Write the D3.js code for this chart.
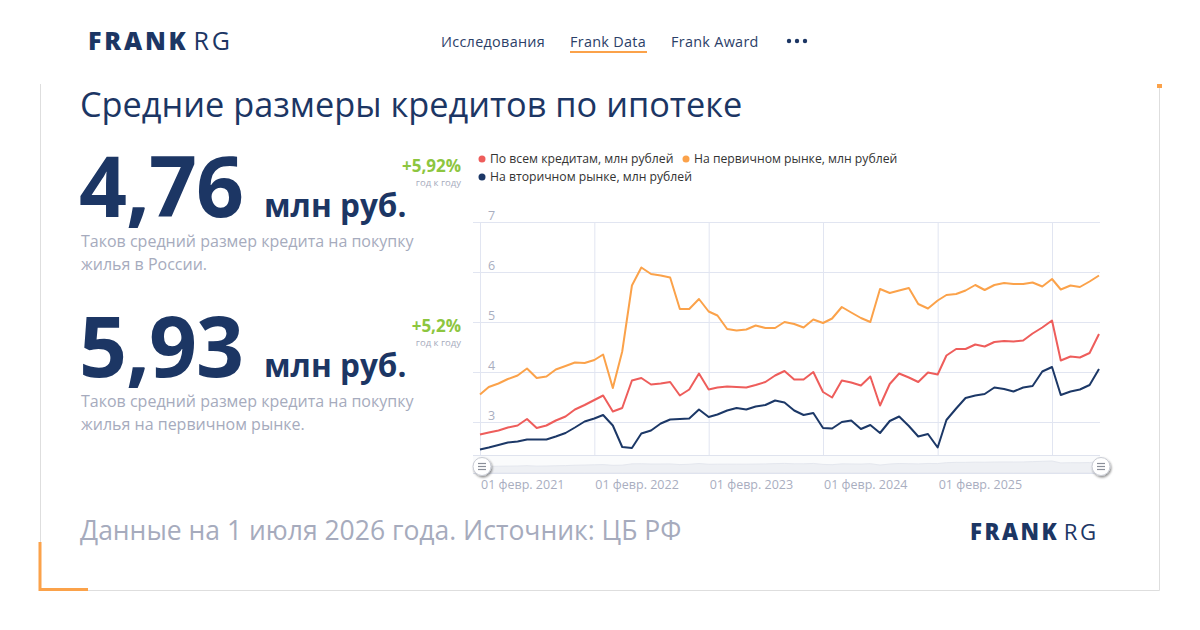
<!DOCTYPE html>
<html lang="ru">
<head>
<meta charset="utf-8">
<script src="https://d3js.org/d3.v7.min.js"></script>
<style>
  body { margin: 0; background: #fff; }
  text { font-family: "Open Sans", sans-serif; }
  .grid line { stroke: #e1e5f1; stroke-width: 1px; }
  .grid path { display: none; }
  .axis-label { fill: #a9aebf; font-size: 12.5px; }
</style>
</head>
<body>
<div id="chart"></div>
<script>
// monthly data, Feb 2021 .. Jul 2026
const startMonth = new Date(2021, 1, 1);
const allLoans = [
  2.75, 2.79, 2.83, 2.89, 2.93, 3.06, 2.88, 2.93, 3.03, 3.11, 3.25, 3.34,
  3.44, 3.53, 3.21, 3.28, 3.83, 3.88, 3.75, 3.77, 3.80, 3.53, 3.65, 3.97,
  3.65, 3.69, 3.71, 3.70, 3.69, 3.74, 3.80, 3.93, 4.02, 3.85, 3.85, 4.00,
  3.60, 3.49, 3.83, 3.79, 3.73, 3.91, 3.33, 3.76, 3.97, 3.89, 3.80, 3.99,
  3.95, 4.33, 4.46, 4.46, 4.55, 4.51, 4.60, 4.62, 4.61, 4.63, 4.77, 4.89,
  5.03, 4.23, 4.31, 4.29, 4.38, 4.76
];
const primaryMarket = [
  3.55, 3.70, 3.77, 3.86, 3.93, 4.07, 3.88, 3.91, 4.05, 4.12, 4.19, 4.18,
  4.24, 4.35, 3.68, 4.41, 5.73, 6.09, 5.96, 5.93, 5.89, 5.26, 5.26, 5.46,
  5.21, 5.13, 4.86, 4.83, 4.85, 4.93, 4.88, 4.88, 5.00, 4.96, 4.89, 5.05,
  4.98, 5.07, 5.30, 5.19, 5.08, 5.00, 5.66, 5.58, 5.63, 5.68, 5.36, 5.27,
  5.43, 5.54, 5.56, 5.63, 5.74, 5.64, 5.74, 5.78, 5.76, 5.76, 5.79, 5.71,
  5.86, 5.65, 5.73, 5.70, 5.81, 5.93
];
const secondaryMarket = [
  2.45, 2.49, 2.54, 2.59, 2.61, 2.65, 2.65, 2.65, 2.71, 2.78, 2.89, 3.01,
  3.07, 3.14, 2.93, 2.50, 2.48, 2.77, 2.83, 2.97, 3.05, 3.06, 3.07, 3.25,
  3.10, 3.15, 3.23, 3.28, 3.25, 3.31, 3.34, 3.43, 3.39, 3.23, 3.14, 3.18,
  2.88, 2.87, 3.00, 3.03, 2.86, 2.94, 2.78, 3.02, 3.11, 2.92, 2.71, 2.76,
  2.49, 3.04, 3.27, 3.48, 3.53, 3.56, 3.69, 3.66, 3.61, 3.69, 3.72, 4.01,
  4.10, 3.54, 3.61, 3.65, 3.74, 4.06
];
const seriesNames = ["По всем кредитам, млн рублей", "На первичном рынке, млн рублей", "На вторичном рынке, млн рублей"];
const seriesColors = ["#ee5d5b", "#fba24a", "#1c3867"];
const xTickYears = [2021, 2022, 2023, 2024, 2025, 2026];
const xTickLabels = ["01 февр. 2021", "01 февр. 2022", "01 февр. 2023", "01 февр. 2024", "01 февр. 2025", ""];
const yTicks = [3, 4, 5, 6, 7];

const navy = "#1c3664";
const grey = "#a6abbd";

const months = allLoans.map((d, i) => d3.timeMonth.offset(startMonth, i));
const series = [allLoans, primaryMarket, secondaryMarket];

const svg = d3.select("#chart").append("svg")
  .attr("width", 1200)
  .attr("height", 630);

// ---- frame ----
svg.append("path")
  .attr("d", "M40.5,84 V590.5 H1159.5 V86")
  .attr("fill", "none").attr("stroke", "#dedede").attr("stroke-width", 1);
svg.append("rect").attr("x", 1157).attr("y", 84).attr("width", 5).attr("height", 4).attr("fill", "#fba24a");
svg.append("path")
  .attr("d", "M40,542 V589.5 H88")
  .attr("fill", "none").attr("stroke", "#fba24a").attr("stroke-width", 3);

// ---- header ----
function logo(x, y, size) {
  const t = svg.append("text").attr("x", x).attr("y", y)
    .attr("fill", navy).style("font-size", size + "px")
    .style("letter-spacing", (size * 0.112) + "px");
  t.append("tspan").attr("font-weight", 800).text("FRANK");
  t.append("tspan").attr("font-weight", 400).attr("dx", size * 0.2).text("RG");
}
logo(88, 50, 25);

const nav = [["Исследования", 441], ["Frank Data", 570], ["Frank Award", 671]];
nav.forEach(([label, x]) => {
  svg.append("text").attr("x", x).attr("y", 47)
    .attr("fill", "#2b4068").style("font-size", "14.4px").style("letter-spacing", "0.3px").text(label);
});
svg.append("rect").attr("x", 570).attr("y", 51).attr("width", 77).attr("height", 2).attr("fill", "#fba24a");
[789, 797, 805].forEach(x => svg.append("circle").attr("cx", x).attr("cy", 41).attr("r", 2.2).attr("fill", "#1c3664"));

svg.append("text").attr("x", 80).attr("y", 117)
  .attr("fill", navy).style("font-size", "34.3px")
  .text("Средние размеры кредитов по ипотеке");

// ---- key figures ----
function figure(y, value, change, desc) {
  svg.append("text").attr("x", 79).attr("y", y)
    .attr("fill", navy).attr("font-weight", 700).style("font-size", "84px").style("letter-spacing", "-1px").text(value);
  svg.append("text").attr("x", 264).attr("y", y)
    .attr("fill", navy).attr("font-weight", 700).style("font-size", "31.5px").text("млн руб.");
  svg.append("text").attr("x", 461).attr("y", y - 45).attr("text-anchor", "end")
    .attr("fill", "#8dc63f").attr("font-weight", 700).style("font-size", "17px").text(change);
  svg.append("text").attr("x", 461).attr("y", y - 31).attr("text-anchor", "end")
    .attr("fill", grey).style("font-size", "9.5px").text("год к году");
  desc.forEach((line, i) => {
    svg.append("text").attr("x", 81).attr("y", y + 30 + i * 23)
      .attr("fill", grey).style("font-size", "16px").text(line);
  });
}
figure(217, "4,76", "+5,92%", ["Таков средний размер кредита на покупку", "жилья в России."]);
figure(377, "5,93", "+5,2%", ["Таков средний размер кредита на покупку", "жилья на первичном рынке."]);

// ---- footer ----
svg.append("text").attr("x", 80).attr("y", 540)
  .attr("fill", grey).style("font-size", "26.5px")
  .text("Данные на 1 июля 2026 года. Источник: ЦБ РФ");
logo(970, 540, 22.2);

// ---- chart ----
const x = d3.scaleTime()
  .domain([startMonth, months[months.length - 1]])
  .range([480, 1099]);
const y = d3.scaleLinear()
  .domain([2.34, 7])
  .range([455, 222]);

const navTop = 455, navBottom = 473;

// horizontal grid
svg.append("g").attr("class", "grid")
  .attr("transform", "translate(1100,0)")
  .call(d3.axisLeft(y).tickValues(yTicks).tickSize(627).tickFormat(""));

// vertical grid
const xTicks = xTickYears.map(yr => new Date(yr, 1, 1));
svg.append("g").attr("class", "grid")
  .attr("transform", `translate(0,${navBottom})`)
  .call(d3.axisBottom(x).tickValues(xTicks).tickSize(-(navBottom - 222)).tickFormat(""));

// y labels
svg.append("g").selectAll("text")
  .data(yTicks)
  .join("text")
  .attr("class", "axis-label")
  .attr("x", 488)
  .attr("y", d => y(d) - 2)
  .text(d => d);

// x labels
svg.append("g").selectAll("text")
  .data(xTicks)
  .join("text")
  .attr("class", "axis-label")
  .attr("x", d => x(d) + 1)
  .attr("y", 489)
  .text((d, i) => xTickLabels[i]);

// navigator strip
svg.append("rect")
  .attr("x", 473).attr("y", navTop).attr("width", 627).attr("height", navBottom - navTop)
  .attr("fill", "#fafbfc");
const yNav = d3.scaleLinear().domain([0, d3.max(allLoans)]).range([navBottom, navTop + 6]);
svg.append("path")
  .datum(allLoans)
  .attr("fill", "#eef0f4")
  .attr("stroke", "#e4e7ee")
  .attr("d", d3.area()
    .x((d, i) => x(months[i]))
    .y0(navBottom)
    .y1(d => yNav(d)));
[navTop, navBottom].forEach(v => {
  svg.append("line").attr("x1", 473).attr("x2", 1100).attr("y1", v + 0.5).attr("y2", v + 0.5)
    .attr("stroke", "#dfe3ee");
});

// lines
const line = d3.line()
  .x((d, i) => x(months[i]))
  .y(d => y(d));
series.forEach((s, k) => {
  svg.append("path")
    .datum(s)
    .attr("fill", "none")
    .attr("stroke", seriesColors[k])
    .attr("stroke-width", 2)
    .attr("stroke-linejoin", "round")
    .attr("d", line);
});

// navigator handles
const defs = svg.append("defs");
const f = defs.append("filter").attr("id", "shadow").attr("x", "-50%").attr("y", "-50%").attr("width", "200%").attr("height", "200%");
f.append("feDropShadow").attr("dx", 1).attr("dy", 1.5).attr("stdDeviation", 1.2).attr("flood-color", "#000").attr("flood-opacity", 0.45);
[482, 1101].forEach(cx => {
  const g = svg.append("g").attr("transform", `translate(${cx},466.5)`);
  g.append("circle").attr("r", 9).attr("fill", "#fff").attr("stroke", "#c9ccd4").attr("filter", "url(#shadow)");
  [-3, 0, 3].forEach(dy => g.append("line")
    .attr("x1", -4).attr("x2", 4).attr("y1", dy).attr("y2", dy)
    .attr("stroke", "#8a8f99").attr("stroke-width", 1.2));
});

// legend
const legendPos = [[482, 159], [686, 159], [482, 177]];
seriesNames.forEach((name, k) => {
  const [lx, ly] = legendPos[k];
  svg.append("circle").attr("cx", lx).attr("cy", ly).attr("r", 3.5).attr("fill", seriesColors[k]);
  svg.append("text").attr("x", lx + 8).attr("y", ly + 4)
    .attr("fill", "#333").style("font-size", "12.2px").text(name);
});
</script>
</body>
</html>
